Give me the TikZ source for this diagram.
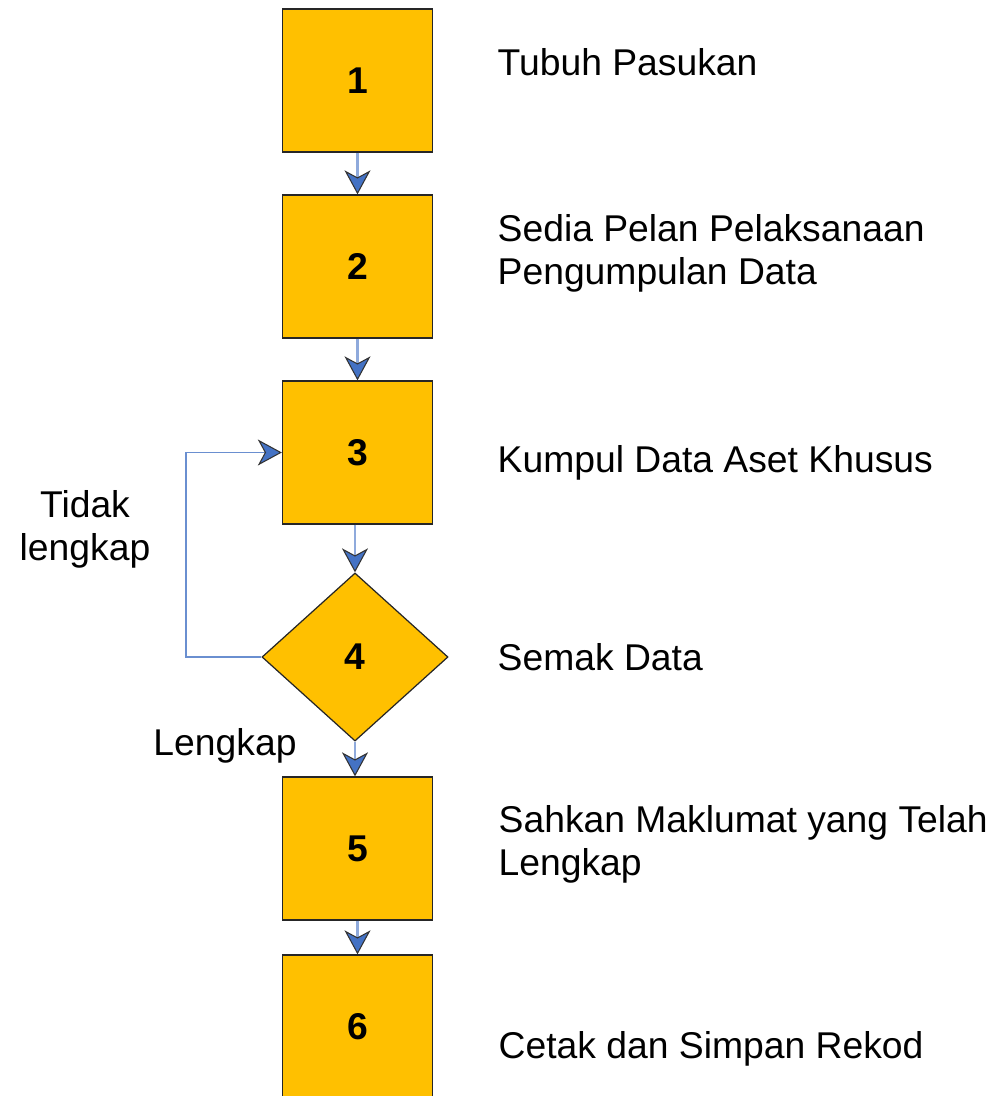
\documentclass[tikz,border=0pt]{standalone}
\usepackage{fontspec}
\setmainfont{Liberation Sans}
\usetikzlibrary{arrows.meta,shapes.geometric}
\definecolor{boxfill}{HTML}{FFC000}
\definecolor{tipfill}{HTML}{4472C4}
\definecolor{linkblue}{HTML}{8FAADC}
\definecolor{loopblue}{HTML}{6A8FD0}
\begin{document}
\begin{tikzpicture}[x=0.01cm,y=-0.01cm,
  font=\fontsize{10.6}{12.2}\selectfont,
  stepbox/.style={draw=black!85,line width=0.35pt,fill=boxfill,minimum width=1.5cm,minimum height=1.43cm,inner sep=0pt,font=\fontsize{10.6}{12.2}\selectfont\bfseries},
  checkbox/.style={diamond,draw=black!85,line width=0.35pt,fill=boxfill,minimum width=1.86cm,minimum height=1.68cm,inner sep=0pt,font=\fontsize{10.6}{12.2}\selectfont\bfseries},
  desc/.style={anchor=west,align=left,inner sep=0pt},
  lbl/.style={align=center,inner sep=0pt},
  tip/.style={-{Stealth[inset=0.7mm,length=2.4mm,width=2.6mm,color=black!80,fill=tipfill,line width=0.3pt]}},
  link/.style={draw=linkblue,line width=0.6pt,tip},
  loop/.style={draw=loopblue,line width=0.5pt,tip}
]
\useasboundingbox (0,0) rectangle (998,1096);
\begin{scope}
\clip (0,0) rectangle (998,1096);
\node[stepbox] (b1) at (357.5,80.5) {1};
\node[stepbox] (b2) at (357.5,266.5) {2};
\node[stepbox] (b3) at (357.5,452.5) {3};
\node[checkbox] (d4) at (355,657) {4};
\node[stepbox] (b5) at (357.5,848.5) {5};
\node[stepbox] (b6) at (357.5,1026.5) {6};

\draw[link] (b1.south) -- (b2.north);
\draw[link] (b2.south) -- (b3.north);
\draw[link] (b3.south -| d4.north) -- (d4.north);
\draw[link] (d4.south) -- (d4.south |- b5.north);
\draw[link] (b5.south) -- (b6.north);
\coordinate (lc) at (186,657);
\draw[loop] (d4.west) -- (lc) |- (b3.west);
\end{scope}

\node[desc] (t1) at (497,62) {Tubuh Pasukan};
\node[desc] (t2) at (497,253) {Sedia Pelan Pelaksanaan\\Pengumpulan Data};
\node[desc] (t3) at (497,463) {Kumpul Data Aset Khusus};
\node[desc] (t4) at (497,657) {Semak Data};
\node[desc] (t5) at (498,844) {Sahkan Maklumat yang Telah\\Lengkap};
\node[desc] (t6) at (498,1049) {Cetak dan Simpan Rekod};
\node[lbl] (l1) at (85,529) {Tidak\\lengkap};
\node[lbl] (l2) at (225,746) {Lengkap};
\end{tikzpicture}
\end{document}
